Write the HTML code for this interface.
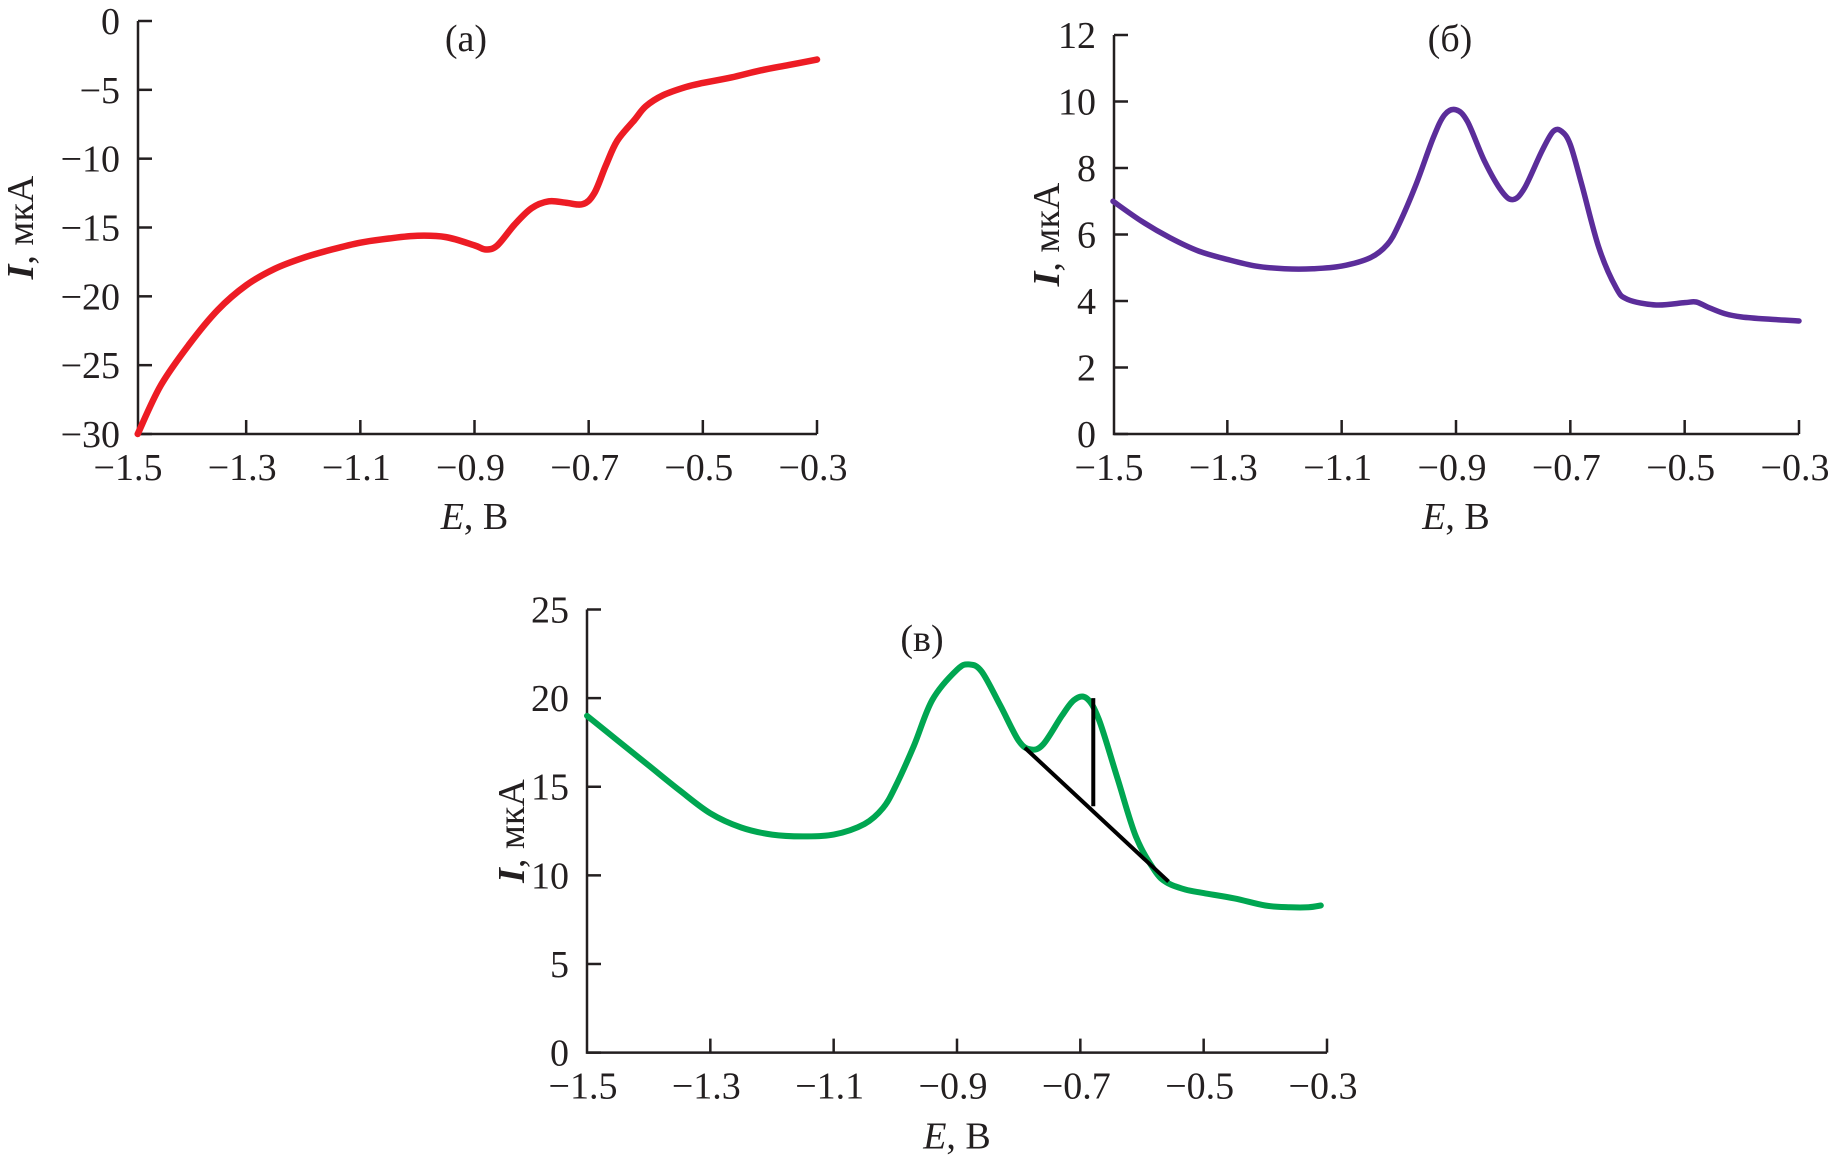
<!DOCTYPE html>
<html><head><meta charset="utf-8"><style>
html,body{margin:0;padding:0;background:#fff;overflow:hidden;}
svg{display:block;}
text{font-family:"Liberation Serif",serif;fill:#231f20;}
</style></head><body>
<svg id="chart" width="1838" height="1164" viewBox="0 0 1838 1164" xmlns="http://www.w3.org/2000/svg"></svg>
<script>
// Panel (a) data
const aE = [-1.49,-1.45,-1.4,-1.35,-1.3,-1.25,-1.2,-1.15,-1.1,-1.05,-1.0,-0.95,-0.9,-0.88,-0.86,-0.83,-0.8,-0.77,-0.74,-0.71,-0.69,-0.67,-0.65,-0.62,-0.6,-0.57,-0.53,-0.5,-0.45,-0.4,-0.35,-0.3];
const aI = [-30,-26.5,-23.5,-21,-19.2,-18,-17.2,-16.6,-16.1,-15.8,-15.6,-15.7,-16.3,-16.6,-16.3,-14.8,-13.6,-13.1,-13.2,-13.3,-12.5,-10.5,-8.7,-7.2,-6.2,-5.4,-4.8,-4.5,-4.1,-3.6,-3.2,-2.8];
const aYTicks = [0,-5,-10,-15,-20,-25,-30];
// Panel (b) data
const bE = [-1.5,-1.45,-1.4,-1.35,-1.3,-1.25,-1.2,-1.15,-1.1,-1.05,-1.02,-1.0,-0.97,-0.94,-0.92,-0.9,-0.88,-0.85,-0.82,-0.8,-0.78,-0.75,-0.73,-0.715,-0.7,-0.68,-0.65,-0.62,-0.6,-0.55,-0.5,-0.48,-0.46,-0.43,-0.4,-0.35,-0.3];
const bI = [7.0,6.4,5.9,5.5,5.25,5.05,4.97,4.97,5.05,5.3,5.7,6.3,7.5,8.9,9.6,9.75,9.4,8.2,7.3,7.05,7.4,8.5,9.1,9.1,8.7,7.5,5.6,4.4,4.05,3.88,3.95,3.97,3.82,3.62,3.52,3.45,3.4];
const bYTicks = [0,2,4,6,8,10,12];
// Panel (c) data
const cE = [-1.5,-1.45,-1.4,-1.35,-1.3,-1.25,-1.2,-1.15,-1.1,-1.05,-1.02,-1.0,-0.97,-0.94,-0.9,-0.88,-0.86,-0.83,-0.8,-0.78,-0.76,-0.73,-0.71,-0.69,-0.67,-0.64,-0.61,-0.58,-0.56,-0.53,-0.5,-0.45,-0.4,-0.36,-0.33,-0.31];
const cI = [19,17.6,16.2,14.8,13.5,12.7,12.3,12.2,12.3,12.9,13.8,15,17.3,19.9,21.6,21.9,21.5,19.6,17.6,17.1,17.4,19.0,19.9,20.0,18.8,15.5,12.2,10.3,9.6,9.2,9.0,8.7,8.3,8.2,8.2,8.3];
const cYTicks = [0,5,10,15,20,25];
const cBaseE = [-0.79,-0.557];
const cBaseI = [17.2,9.65];
const cPeakE = [-0.679,-0.679];
const cPeakI = [20.0,13.9];
const xTicks = [-1.5,-1.3,-1.1,-0.9,-0.7,-0.5,-0.3];

const svg = document.getElementById('chart');
const NS = 'http://www.w3.org/2000/svg';
function mk(tag, attrs, parent){
  const el = document.createElementNS(NS, tag);
  for (const k in attrs) el.setAttribute(k, attrs[k]);
  (parent||svg).appendChild(el);
  return el;
}
function fmt(v){ return (v<0?'\u2212':'') + Math.abs(v).toString(); }

function panel(o){
  const g = mk('g', {});
  
  
  const X = e => o.x0 + (e - (-1.5)) * (o.x1 - o.x0) / 1.2;
  const Y = v => o.yb + (v - o.ymin) * (o.yt - o.yb) / (o.ymax - o.ymin);
  const ax = mk('path', {d:`M${o.axX} ${Y(o.ymax)} L${o.axX} ${o.yb} L${X(-0.3)} ${o.yb}`, fill:'none', stroke:'#231f20', 'stroke-width':2.5}, g);
  
  
  o.yTicks.forEach(v => {
    const t = mk('line', {x1:o.axX, x2:o.axX+14, y1:Y(v), y2:Y(v), stroke:'#231f20','stroke-width':2.5}, g);
    
    
    const l = mk('text', {x:o.axX-18, y:Y(v)+13, 'text-anchor':'end', 'font-size':38}, g);
    
    
    l.textContent = fmt(v);
  });
  xTicks.forEach((e,i) => {
    if (i>0){
      const t = mk('line', {x1:X(e), x2:X(e), y1:o.yb, y2:o.yb-14, stroke:'#231f20','stroke-width':2.5}, g);
      
      
    }
    const l = mk('text', {x:X(e)-4, y:o.yb+46, 'text-anchor':'middle', 'font-size':38}, g);
    
    
    l.textContent = fmt(e);
  });
  const xt = mk('text', {x:(X(-1.5)+X(-0.3))/2, y:o.yb+o.xtOff, 'text-anchor':'middle','font-size':38}, g);
  
  
  xt.innerHTML = '<tspan font-style="italic">E</tspan>, В';
  const cy = (Y(o.ymax)+o.yb)/2;
  const yt = mk('text', {x:0, y:0, 'text-anchor':'middle','font-size':38, transform:`translate(${o.ytx},${cy}) rotate(-90)`}, g);
  
  
  yt.innerHTML = '<tspan font-style="italic" font-weight="bold">I</tspan>, мкА';
  const pl = mk('text', {x:o.lx, y:o.ly, 'text-anchor':'middle','font-size':38}, g);
  
  
  pl.textContent = o.label;
  const pts = o.E.map((e,i)=>[X(e), Y(o.I[i])]);
  let d = `M${pts[0][0]} ${pts[0][1]}`;
  for (let i=0;i<pts.length-1;i++){
    const p0=pts[Math.max(0,i-1)], p1=pts[i], p2=pts[i+1], p3=pts[Math.min(pts.length-1,i+2)];
    d += ` C${p1[0]+(p2[0]-p0[0])/6} ${p1[1]+(p2[1]-p0[1])/6} ${p2[0]-(p3[0]-p1[0])/6} ${p2[1]-(p3[1]-p1[1])/6} ${p2[0]} ${p2[1]}`;
  }
  const c = mk('path', {d, fill:'none', stroke:o.color, 'stroke-width':o.sw, 'stroke-linecap':'round','stroke-linejoin':'round'}, g);
  
  
  return {g,X,Y};
}

panel({name:'panel-a', x0:132, x1:817, axX:138, yb:434, yt:21, ymin:-30, ymax:0, yTicks:aYTicks, E:aE, I:aI, color:'#ed1c24', sw:6.5, ytx:33, lx:466, ly:51, label:'(a)', xtOff:95});
panel({name:'panel-b', x0:1113, x1:1799, axX:1114, yb:434, yt:35, ymin:0, ymax:12, yTicks:bYTicks, E:bE, I:bI, color:'#5b2d9a', sw:5.5, ytx:1059, lx:1450, ly:51, label:'(б)', xtOff:95});
const pc = panel({name:'panel-c', x0:587, x1:1327, axX:587, yb:1052.6, yt:609.5, ymin:0, ymax:25, yTicks:cYTicks, E:cE, I:cI, color:'#00a651', sw:6, ytx:524, lx:922, ly:651, label:'(в)', xtOff:96});
const base = mk('line', {x1:pc.X(cBaseE[0]), y1:pc.Y(cBaseI[0]), x2:pc.X(cBaseE[1]), y2:pc.Y(cBaseI[1]), stroke:'#000','stroke-width':4}, pc.g);


const ph = mk('line', {x1:pc.X(cPeakE[0]), y1:pc.Y(cPeakI[0]), x2:pc.X(cPeakE[1]), y2:pc.Y(cPeakI[1]), stroke:'#000','stroke-width':4}, pc.g);


</script>
</body></html>
